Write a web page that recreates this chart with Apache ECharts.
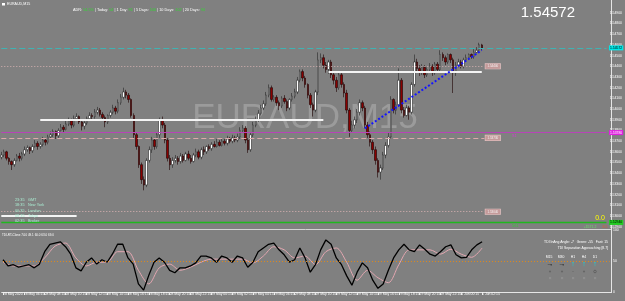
<!DOCTYPE html>
<html><head><meta charset="utf-8">
<script src="https://cdn.jsdelivr.net/npm/echarts@6/dist/echarts.min.js"></script>
<style>html,body{margin:0;padding:0;background:#808080;}#c{width:625px;height:301px;}</style>
</head><body><div id="c"></div>
<script>
// ---- data (EURAUD M15) ----
const firstOpen = 1.5355;
const closes = [
1.5357,1.5360,1.5354,1.5351,1.5348,1.5352,1.5356,1.5354,1.5358,1.5362,
1.5364,1.5361,1.5365,1.5368,1.5365,1.5367,1.5371,1.5369,1.5374,1.5376,
1.5379,1.5375,1.5380,1.5383,1.5381,1.5386,1.5389,1.5385,1.5391,1.5393,
1.5388,1.5384,1.5387,1.5391,1.5394,1.5393,1.5397,1.5399,1.5395,1.5392,
1.5388,1.5394,1.5397,1.5401,1.5398,1.5406,1.5411,1.5416,1.5413,1.5409,
1.5394,1.5376,1.5365,1.5348,1.5334,1.5329,1.5352,1.5362,1.5371,1.5365,
1.5376,1.5390,1.5385,1.5371,1.5354,1.5348,1.5352,1.5354,1.5351,1.5356,
1.5352,1.5358,1.5354,1.5351,1.5357,1.5360,1.5355,1.5362,1.5360,1.5365,
1.5363,1.5367,1.5365,1.5369,1.5366,1.5370,1.5368,1.5372,1.5370,1.5373,
1.5371,1.5374,1.5380,1.5382,1.5371,1.5362,1.5376,1.5385,1.5390,1.5396,
1.5401,1.5405,1.5413,1.5420,1.5409,1.5411,1.5406,1.5403,1.5410,1.5407,
1.5401,1.5409,1.5412,1.5416,1.5427,1.5435,1.5429,1.5423,1.5413,1.5404,
1.5399,1.5416,1.5446,1.5448,1.5441,1.5437,1.5444,1.5432,1.5427,1.5420,
1.5432,1.5423,1.5415,1.5399,1.5380,1.5385,1.5390,1.5397,1.5406,1.5401,
1.5385,1.5376,1.5369,1.5362,1.5352,1.5341,1.5345,1.5357,1.5366,1.5374,
1.5409,1.5399,1.5404,1.5427,1.5399,1.5394,1.5401,1.5397,1.5423,1.5444,
1.5438,1.5435,1.5439,1.5432,1.5437,1.5440,1.5434,1.5442,1.5437,1.5451,
1.5448,1.5444,1.5451,1.5446,1.5434,1.5441,1.5444,1.5440,1.5446,1.5448,
1.5451,1.5449,1.5453,1.5455,1.5460,1.5457];
const highs = [
1.5360,1.5362,1.5361,1.5355,1.5352,1.5354,1.5358,1.5359,1.5360,1.5365,
1.5366,1.5365,1.5367,1.5371,1.5370,1.5369,1.5374,1.5373,1.5376,1.5379,
1.5381,1.5380,1.5382,1.5386,1.5385,1.5389,1.5392,1.5391,1.5394,1.5396,
1.5394,1.5390,1.5389,1.5393,1.5397,1.5396,1.5400,1.5402,1.5401,1.5397,
1.5394,1.5395,1.5399,1.5404,1.5403,1.5409,1.5414,1.5420,1.5418,1.5415,
1.5410,1.5396,1.5378,1.5366,1.5350,1.5337,1.5354,1.5365,1.5374,1.5373,
1.5378,1.5392,1.5393,1.5387,1.5373,1.5357,1.5355,1.5357,1.5356,1.5359,
1.5358,1.5360,1.5361,1.5357,1.5359,1.5363,1.5362,1.5364,1.5365,1.5366,
1.5367,1.5369,1.5370,1.5372,1.5371,1.5373,1.5372,1.5375,1.5374,1.5376,
1.5375,1.5377,1.5383,1.5385,1.5384,1.5373,1.5378,1.5388,1.5393,1.5399,
1.5404,1.5408,1.5416,1.5423,1.5422,1.5413,1.5413,1.5408,1.5412,1.5413,
1.5409,1.5410,1.5415,1.5419,1.5430,1.5437,1.5437,1.5431,1.5424,1.5415,
1.5406,1.5418,1.5453,1.5452,1.5451,1.5444,1.5446,1.5446,1.5435,1.5430,
1.5434,1.5434,1.5425,1.5418,1.5401,1.5389,1.5393,1.5400,1.5409,1.5408,
1.5403,1.5388,1.5379,1.5371,1.5365,1.5354,1.5348,1.5360,1.5369,1.5378,
1.5412,1.5410,1.5407,1.5438,1.5429,1.5402,1.5404,1.5403,1.5425,1.5451,
1.5447,1.5441,1.5442,1.5441,1.5439,1.5443,1.5442,1.5444,1.5444,1.5455,
1.5453,1.5450,1.5452,1.5452,1.5448,1.5444,1.5447,1.5446,1.5448,1.5451,
1.5452,1.5452,1.5456,1.5458,1.5462,1.5461];
const lows = [
1.5353,1.5355,1.5352,1.5348,1.5343,1.5346,1.5351,1.5351,1.5352,1.5356,
1.5360,1.5358,1.5359,1.5364,1.5362,1.5363,1.5365,1.5366,1.5367,1.5372,
1.5374,1.5372,1.5373,1.5379,1.5378,1.5380,1.5384,1.5382,1.5383,1.5389,
1.5386,1.5380,1.5381,1.5385,1.5389,1.5390,1.5391,1.5395,1.5393,1.5389,
1.5383,1.5386,1.5392,1.5395,1.5395,1.5396,1.5404,1.5409,1.5410,1.5406,
1.5392,1.5373,1.5362,1.5345,1.5330,1.5324,1.5327,1.5350,1.5359,1.5362,
1.5363,1.5373,1.5382,1.5368,1.5351,1.5343,1.5345,1.5350,1.5348,1.5349,
1.5350,1.5351,1.5352,1.5349,1.5350,1.5355,1.5353,1.5353,1.5357,1.5358,
1.5361,1.5361,1.5364,1.5364,1.5365,1.5365,1.5366,1.5366,1.5368,1.5368,
1.5369,1.5369,1.5372,1.5378,1.5368,1.5359,1.5360,1.5374,1.5383,1.5388,
1.5394,1.5399,1.5403,1.5411,1.5407,1.5407,1.5403,1.5399,1.5401,1.5405,
1.5398,1.5399,1.5407,1.5410,1.5414,1.5425,1.5426,1.5420,1.5410,1.5401,
1.5393,1.5397,1.5413,1.5443,1.5438,1.5434,1.5433,1.5429,1.5423,1.5416,
1.5418,1.5420,1.5411,1.5396,1.5374,1.5378,1.5382,1.5387,1.5394,1.5398,
1.5382,1.5373,1.5365,1.5358,1.5348,1.5336,1.5334,1.5343,1.5354,1.5364,
1.5372,1.5396,1.5395,1.5402,1.5396,1.5392,1.5393,1.5390,1.5395,1.5421,
1.5435,1.5431,1.5432,1.5429,1.5430,1.5435,1.5431,1.5432,1.5435,1.5435,
1.5445,1.5441,1.5442,1.5443,1.5415,1.5431,1.5439,1.5438,1.5438,1.5444,
1.5446,1.5447,1.5447,1.5452,1.5453,1.5455];
// time-axis labels (one every 8 bars)
const tickLabels = ["28 May 2020","28 May 06:15","28 May 08:15","28 May 10:15","28 May 12:15","28 May 14:15",
"28 May 16:15","28 May 18:15","28 May 20:15","28 May 22:15","29 May 00:15","29 May 02:15","29 May 04:15",
"29 May 06:15","29 May 08:15","29 May 10:15","29 May 12:15","29 May 14:15","29 May 16:15","29 May 18:15",
"29 May 20:15","29 May 22:15","1 Jun 00:15","1 Jun 02:15"];
// TDI fast (price) line, sampled every 2 bars
const tdiFast = [52,42,44,40,42,44,39,45,65,77,79,81,73,61,39,34,48,55,45,52,
48,61,77,77,55,45,13,3,27,48,55,48,35,31,39,39,42,47,58,58,
55,48,58,55,48,58,55,40,48,65,71,77,79,68,60,48,52,71,55,32,
44,68,84,77,55,44,26,11,32,47,39,19,6,13,35,55,68,77,68,65,
76,69,61,58,65,73,76,60,55,56,68,76,81];
// TDI signal line, sampled every 4 bars
const tdiSignal = [48,42,42,42,55,74,79,55,42,48,48,65,65,35,13,39,45,35,40,48,
53,53,53,53,47,58,73,68,55,58,44,65,71,48,19,35,23,15,44,68,
68,68,61,69,61,56,71];
// levels
const bidPrice = 1.54572;
const askPrice = 1.5452;
const dotLevel = 1.5440;
const whiteHiLevel = 1.5435;
const whiteMidLevel = 1.5390;
const magentaLevel = 1.5378;
const pinkDashLevel = 1.5373;
const pinkDotLevel = 1.5304;
const whiteLowLevel = 1.5300;
const greenLevel = 1.5294;
const trendStart = [140, 1.5382];
const trendEnd = [185, 1.5455];
const tdiMid = 50;

const N = 234;
const cats = Array.from({length: N}, (_, i) => String(i));
const candle = closes.map((c, i) => [i === 0 ? firstOpen : closes[i - 1], c, lows[i], highs[i]]);
const fastPts = tdiFast.map((v, k) => [2 * k, v]);
const sigPts = tdiSignal.map((v, k) => [4 * k, v]);
const lastBar = closes.length;

const FF = 'Liberation Sans, Arial, sans-serif';
const boxLbl = (txt, bg, fg) => ({show: true, position: 'end', formatter: txt, backgroundColor: bg, color: fg,
  fontSize: 3.4, fontFamily: FF, padding: [1, 1], distance: 2.5});
const segLbl = (txt) => ({show: true, position: 'end', formatter: txt, backgroundColor: '#c49a9a',
  borderColor: '#e6c6c6', borderWidth: 0.6, color: '#f4f4f4', fontSize: 3, fontFamily: FF, padding: [1, 2], distance: 1});
const full = (v, ls, lbl) => [{coord: [0, v], lineStyle: ls, label: lbl || {show: false}}, {coord: [N - 1, v]}];

const chart = echarts.init(document.getElementById('c'), null, {renderer: 'canvas'});
const tickOK = (i) => i % 8 === 0 && i / 8 < tickLabels.length;

const txt = (x, y, s, fill, size, align, extra) => Object.assign({
  type: 'text', x: x, y: y, silent: true, z: 50,
  style: {text: s, fill: fill, font: size + 'px ' + FF, textAlign: align || 'left', textVerticalAlign: 'middle'}
}, extra || {});

const option = {
  animation: false,
  backgroundColor: '#808080',
  grid: [
    {left: 0, right: 14, top: 2.1, height: 235.3},
    {left: 0, right: 14, top: 230, height: 62}
  ],
  xAxis: [
    {type: 'category', data: cats, gridIndex: 0, show: false},
    {type: 'category', data: cats, gridIndex: 1,
      axisLine: {show: true, lineStyle: {color: '#e6e6e6', width: 1}},
      axisTick: {show: true, alignWithLabel: true, interval: tickOK, length: 3, lineStyle: {color: '#e6e6e6'}},
      axisLabel: {interval: tickOK, formatter: (v, i) => tickLabels[i / 8] || '', color: '#ffffff',
        fontSize: 3.4, fontFamily: FF, align: 'left', margin: 1}
    }
  ],
  yAxis: [
    {type: 'value', gridIndex: 0, position: 'right', min: 1.528, max: 1.550, interval: 0.001,
      axisLine: {show: false}, axisTick: {show: false}, splitLine: {show: false},
      axisLabel: {color: '#ffffff', fontSize: 3.4, fontFamily: FF, margin: 2,
        formatter: v => (v < 1.5285 || v > 1.5495) ? '' : v.toFixed(5)}},
    {type: 'value', gridIndex: 1, position: 'right', min: 0, max: 100, interval: 50,
      axisLine: {show: false}, axisTick: {show: false}, splitLine: {show: false},
      axisLabel: {color: '#ffffff', fontSize: 3.4, fontFamily: FF, margin: 2}}
  ],
  series: [
    {type: 'candlestick', xAxisIndex: 0, yAxisIndex: 0, data: candle, barWidth: 2, clip: false,
      itemStyle: {color: '#ffffff', color0: '#8a0000', borderColor: '#262626', borderColor0: '#1c0000', borderWidth: 0.6},
      markLine: {symbol: ['none', 'none'], silent: true, animation: false, label: {show: false},
        data: [
          full(bidPrice, {color: '#3fb3b3', type: [6, 3], width: 1.2}, boxLbl('1.54572', '#00e8e8', '#000')),
          full(askPrice, {opacity: 0}, boxLbl('1.54520', '#ffffff', '#000')),
          [{coord: [0, dotLevel], lineStyle: {color: '#d6b2b2', type: [1, 2], width: 1}, label: segLbl('1.54400')}, {coord: [lastBar, dotLevel]}],
          [{coord: [126, whiteHiLevel], lineStyle: {color: '#f4f4f4', type: 'solid', width: 2}}, {coord: [lastBar - 1, whiteHiLevel]}],
          [{coord: [15, whiteMidLevel], lineStyle: {color: '#f4f4f4', type: 'solid', width: 2}}, {coord: [124, whiteMidLevel]}],
          full(magentaLevel, {color: '#b844b8', type: 'solid', width: 1}, boxLbl('1.53780', '#e020e0', '#fff')),
          [{coord: [0, pinkDashLevel], lineStyle: {color: '#dcaaaa', type: [5, 3], width: 1}, label: segLbl('1.53730')}, {coord: [lastBar, pinkDashLevel]}],
          [{coord: [0, pinkDotLevel], lineStyle: {color: '#dcb4b4', type: [1, 2], width: 1}, label: segLbl('1.53040')}, {coord: [lastBar, pinkDotLevel]}],
          [{coord: [0, whiteLowLevel], lineStyle: {color: '#f4f4f4', type: 'solid', width: 2}}, {coord: [29, whiteLowLevel]}],
          full(greenLevel, {color: '#1fb81f', type: 'solid', width: 1.3}, boxLbl('1.52940', '#22cc22', '#000')),
          [{coord: trendStart, lineStyle: {color: '#1414ff', type: [2, 2], width: 2}}, {coord: trendEnd}]
        ]}
    },
    {type: 'line', xAxisIndex: 1, yAxisIndex: 1, data: sigPts, symbol: 'none', smooth: 0.3,
      lineStyle: {color: '#e2a6b0', width: 1}, z: 2},
    {type: 'line', xAxisIndex: 1, yAxisIndex: 1, data: fastPts, symbol: 'none',
      lineStyle: {color: '#000000', width: 1.3}, z: 3,
      markLine: {symbol: ['none', 'none'], silent: true, label: {show: false},
        data: [[{coord: [0, tdiMid], lineStyle: {color: '#e08a1c', type: [1, 2], width: 1}}, {coord: [N - 1, tdiMid]}]]}}
  ],
  graphic: [
    {type: 'text', x: 305, y: 118, silent: true, z: -1,
      style: {text: 'EURAUD,M15', fill: '#9b9b9b', font: '35px ' + FF, textAlign: 'center', textVerticalAlign: 'middle'}},
    {type: 'line', silent: true, shape: {x1: 611.5, y1: 0, x2: 611.5, y2: 293}, style: {stroke: '#e6e6e6', lineWidth: 1}},
    {type: 'line', silent: true, shape: {x1: 0, y1: 229.5, x2: 611, y2: 229.5}, style: {stroke: '#d4d4d4', lineWidth: 1}},
    {type: 'rect', silent: true, shape: {x: 2, y: 3, width: 3, height: 2.5}, style: {fill: '#ffffff'}},
    txt(7, 4.3, 'EURAUD,M15', '#ffffff', 3.6),
    {type: 'text', x: 73, y: 10, silent: true, style: {
      text: '{w|ADR: }{g|54.5%}{w| | Today: }{g|54}{w| | 1 Day: }{g|91}{w| | 5 Days: }{g|100}{w| | 10 Days: }{g|102}{w| | 20 Days: }{g|94}',
      textVerticalAlign: 'middle', font: '3.8px ' + FF,
      rich: {w: {fill: '#ffffff', fontSize: 3.8, fontFamily: FF}, g: {fill: '#33d633', fontSize: 3.8, fontFamily: FF}}}},
    txt(575, 12.5, '1.54572', '#ffffff', 15, 'right'),
    txt(15, 200, '23:35', '#a8ead0', 3.8), txt(28, 200, 'GMT', '#a8ead0', 3.8),
    txt(15, 205.3, '18:35', '#a8ead0', 3.8), txt(28, 205.3, 'New York', '#a8ead0', 3.8),
    txt(15, 210.6, '00:35', '#a8ead0', 3.8), txt(28, 210.6, 'London', '#a8ead0', 3.8),
    txt(15, 215.9, '08:35', '#a8ead0', 3.8), txt(28, 215.9, 'Tokyo', '#a8ead0', 3.8),
    txt(15, 221.2, '02:35', '#a8ead0', 3.8), txt(28, 221.2, 'Broker', '#a8ead0', 3.8),
    txt(512, 136, 'S1', '#d23cd2', 3.8),
    txt(512, 226, '561', '#3ec03e', 4),
    txt(600, 218.5, '0.0', '#ffff00', 7, 'center'),
    txt(590, 227, '+1571.2', '#66e066', 3.5, 'center'),
    txt(605, 227, '8.5', '#e05a30', 3.5, 'center'),
    txt(2, 235, 'TDI-RT-Clone 74.0 49.1 60.0 63.0 69.0', '#ffffff', 3),
    txt(608, 242, 'TDI InAng Angle: -7   Green: -55   Fast: 15', '#ffffff', 3.4, 'right'),
    txt(608, 248, 'TDI Separation Approaching [8.7]', '#ffffff', 3.4, 'right'),
    txt(549, 257, 'M15', '#ffffff', 3.4, 'center'), txt(561, 257, 'M30', '#ffffff', 3.4, 'center'),
    txt(573, 257, 'H1', '#ffffff', 3.4, 'center'), txt(584, 257, 'H4', '#ffffff', 3.4, 'center'),
    txt(595, 257, 'D1', '#ffffff', 3.4, 'center'),
    txt(550, 264, '→', '#000000', 7, 'center'), txt(562, 264, '→', '#000000', 7, 'center'),
    txt(573, 264, '↑', '#00e8e8', 7, 'center'), txt(584, 264, '↑', '#00e8e8', 7, 'center'),
    txt(595, 264, '↑', '#00e8e8', 7, 'center'),
    {type: 'circle', silent: true, shape: {cx: 550, cy: 271.5, r: 1.1}, style: {fill: '#666666'}},
    {type: 'circle', silent: true, shape: {cx: 562, cy: 271.5, r: 1.1}, style: {fill: '#666666'}},
    {type: 'circle', silent: true, shape: {cx: 573, cy: 271.5, r: 0.6}, style: {fill: '#666666'}},
    {type: 'circle', silent: true, shape: {cx: 584, cy: 271.5, r: 1.1}, style: {fill: '#666666'}},
    {type: 'circle', silent: true, shape: {cx: 595, cy: 271.5, r: 1.3}, style: {fill: 'none', stroke: '#5a5a5a', lineWidth: 0.8}},
    {type: 'rect', silent: true, shape: {x: 549, y: 277, width: 2.2, height: 2.2}, style: {fill: '#8e8e8e'}},
    {type: 'rect', silent: true, shape: {x: 561, y: 277, width: 2.2, height: 2.2}, style: {fill: '#8e8e8e'}},
    {type: 'rect', silent: true, shape: {x: 572, y: 277, width: 2.2, height: 2.2}, style: {fill: '#8e8e8e'}},
    {type: 'rect', silent: true, shape: {x: 583, y: 277, width: 2.2, height: 2.2}, style: {fill: '#8e8e8e'}},
    {type: 'rect', silent: true, shape: {x: 594, y: 277, width: 2.2, height: 2.2}, style: {fill: '#8e8e8e'}}
  ]
};
chart.setOption(option);
</script>
</body></html>
